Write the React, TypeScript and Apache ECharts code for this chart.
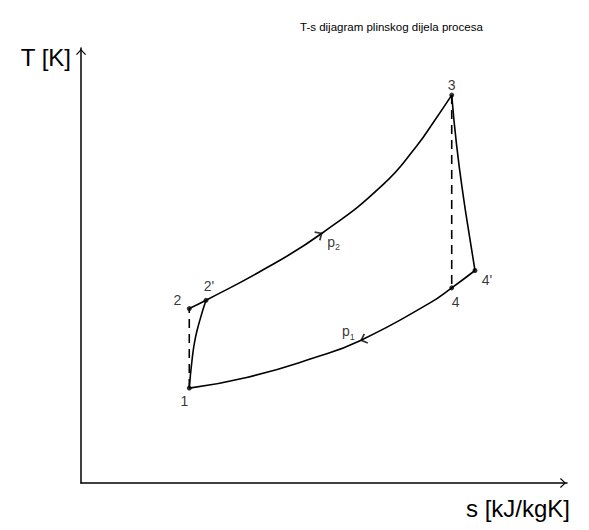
import React, { useEffect, useRef } from "react";
import * as echarts from "echarts";

// State points of the cycle (s and T in arbitrary units)
const stateLabels = ["1", "2", "2'", "3", "4", "4'"];
const stateS = [22.28, 22.28, 25.72, 76.28, 76.28, 81.07];
const stateT = [21.82, 40.1, 42.0, 89.17, 44.86, 48.85];

// Isobar p2: 2 -> 2' -> 3
const isobarP2S = [22.28, 25.72, 38.21, 49.73, 62.2, 69.07, 72.49, 76.28];
const isobarP2T = [40.1, 42.0, 49.47, 57.53, 68.66, 77.49, 82.88, 89.17];

// Isobar p1: 1 -> 4 -> 4'
const isobarP1S = [22.28, 34.09, 47.8, 57.41, 71.81, 76.28, 81.07];
const isobarP1T = [21.82, 24.26, 28.73, 32.72, 41.41, 44.86, 48.85];

// Real compression 1 -> 2'
const compressionS = [22.28, 22.78, 23.46, 24.49, 25.72];
const compressionT = [21.82, 27.58, 32.95, 37.56, 42.0];

// Real expansion 3 -> 4'
const expansionS = [76.28, 77.3, 78.66, 80.04, 81.07];
const expansionT = [89.17, 77.49, 65.97, 55.99, 48.85];

// Ideal (isentropic) processes 1 -> 2 and 3 -> 4
const isentropic12S = [22.28, 22.28];
const isentropic12T = [21.82, 40.1];
const isentropic34S = [76.28, 76.28];
const isentropic34T = [89.17, 44.86];

// Flow direction arrows on the isobars
const arrowNames = ["p2", "p1"];
const arrowS = [49.73, 57.41];
const arrowT = [57.53, 32.72];

const titleText = "T-s dijagram plinskog dijela procesa";
const xName = "s [kJ/kgK]";
const yName = "T [K]";

const FONT = "'Liberation Sans', Arial, sans-serif";
const chevronUp = "path://M5,0 L10,5.2 L9.1,6 L5,1.6 L0.9,6 L0,5.2 Z";
const chevronSmall = "path://M5,0 L10,5 L8.8,6 L5,2.1 L1.2,6 L0,5 Z";

const zip = (a: number[], b: number[]) => a.map((v, i) => [v, b[i]]);

// label offsets (px) for the state points
const stateLabelOffsets: number[][] = [
  [-5, 13],
  [-12, -9],
  [3, -14],
  [0, -10],
  [4, 14],
  [12, 9],
];
const arrowRotate = [-57.6, 110.8];
const arrowSymOffset: number[][] = [
  [-3, 1.9],
  [3.3, -1.2],
];
const arrowLabelOffsets: number[][] = [
  [14, 6],
  [-15, -9],
];

export default function App() {
  const ref = useRef<HTMLDivElement>(null);
  useEffect(() => {
    document.body.style.margin = "0";
    if (!ref.current) return;
    const chart = echarts.init(ref.current, undefined, { renderer: "svg" });
    const lineBase = {
      type: "line" as const,
      showSymbol: false,
      symbol: "none",
      silent: true,
      lineStyle: { color: "#000", width: 1.6 },
    };
    const labelBase = {
      show: true,
      position: "inside" as const,
      color: "#000",
      fontFamily: FONT,
      textBorderWidth: 0,
      textBorderColor: "transparent",
    };
    chart.setOption({
      animation: false,
      backgroundColor: "#fff",
      title: {
        text: titleText,
        left: 295,
        top: 16,
        textStyle: { fontSize: 11.5, fontWeight: "normal", color: "#000", fontFamily: FONT },
      },
      grid: { left: 81, top: 48, right: 22, bottom: 47 },
      xAxis: {
        type: "value",
        min: 0,
        max: 100,
        name: xName,
        nameLocation: "end",
        nameGap: 3,
        nameTextStyle: {
          fontSize: 24,
          color: "#000",
          fontFamily: FONT,
          align: "right",
          verticalAlign: "top",
          padding: [13, 0, 0, 0],
        },
        axisLine: {
          lineStyle: { color: "#000", width: 1.5 },
          symbol: ["none", chevronUp],
          symbolSize: [10, 8],
          symbolOffset: [0, -4],
        },
        axisTick: { show: false },
        axisLabel: { show: false },
        splitLine: { show: false },
      },
      yAxis: {
        type: "value",
        min: 0,
        max: 100,
        name: yName,
        nameLocation: "end",
        nameGap: -9,
        nameTextStyle: {
          fontSize: 24,
          color: "#000",
          fontFamily: FONT,
          align: "right",
          verticalAlign: "middle",
          padding: [0, 10, 0, 0],
        },
        axisLine: {
          lineStyle: { color: "#000", width: 1.5 },
          symbol: ["none", chevronUp],
          symbolSize: [10, 8],
          symbolOffset: [0, -4],
        },
        axisTick: { show: false },
        axisLabel: { show: false },
        splitLine: { show: false },
      },
      series: [
        { ...lineBase, name: "isobar p2", smooth: 0.5, data: zip(isobarP2S, isobarP2T) },
        { ...lineBase, name: "isobar p1", smooth: 0.5, data: zip(isobarP1S, isobarP1T) },
        { ...lineBase, name: "compression", smooth: 0.5, data: zip(compressionS, compressionT) },
        { ...lineBase, name: "expansion", smooth: 0.5, data: zip(expansionS, expansionT) },
        {
          ...lineBase,
          name: "isentropic 1-2",
          data: zip(isentropic12S, isentropic12T),
          lineStyle: { color: "#000", width: 1.6, type: [9, 6] },
        },
        {
          ...lineBase,
          name: "isentropic 3-4",
          data: zip(isentropic34S, isentropic34T),
          lineStyle: { color: "#000", width: 1.6, type: [9, 6] },
        },
        {
          type: "scatter",
          name: "states",
          silent: true,
          symbol: "circle",
          symbolSize: 5,
          itemStyle: { color: "#000" },
          z: 5,
          data: stateLabels.map((n, i) => ({
            value: [stateS[i], stateT[i]],
            name: n,
            label: {
              ...labelBase,
              offset: stateLabelOffsets[i],
              formatter: n,
              fontSize: 14,
            },
          })),
        },
        {
          type: "scatter",
          name: "arrows",
          silent: true,
          symbol: chevronSmall,
          symbolSize: [11, 7],
          itemStyle: { color: "#000" },
          z: 5,
          data: arrowNames.map((n, i) => ({
            value: [arrowS[i], arrowT[i]],
            name: n,
            symbolRotate: arrowRotate[i],
            symbolOffset: arrowSymOffset[i],
            label: {
              ...labelBase,
              offset: arrowLabelOffsets[i],
              formatter: "{p|" + n.charAt(0) + "}{s|" + n.slice(1) + "}",
              rich: {
                p: { fontSize: 14, color: "#000", fontFamily: FONT, verticalAlign: "bottom", lineHeight: 16, textBorderWidth: 0 },
                s: { fontSize: 9, color: "#000", fontFamily: FONT, verticalAlign: "bottom", lineHeight: 12, padding: [0, 0, -3, 0], textBorderWidth: 0 },
              },
            },
          })),
        },
      ],
    });
    return () => chart.dispose();
  }, []);
  return <div ref={ref} style={{ width: 589, height: 530 }} />;
}
